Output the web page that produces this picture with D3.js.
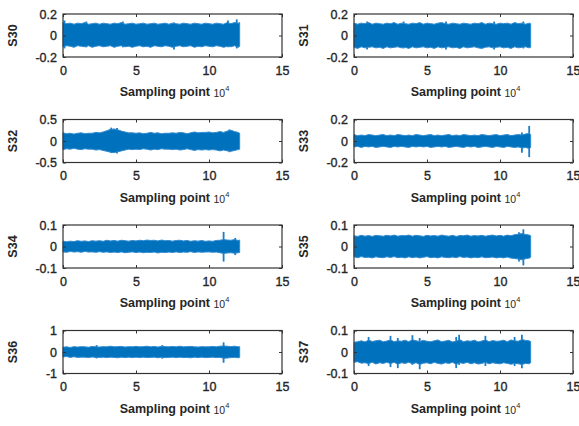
<!DOCTYPE html>
<html>
<head>
<meta charset="utf-8">
<script src="https://d3js.org/d3.v7.min.js"></script>
<style>
  body { margin: 0; background: #fff; }
  text { font-family: "Liberation Sans", Arial, sans-serif; fill: #262626; }
</style>
</head>
<body>
<div id="graph"></div>
<script>

// channel names, one panel each
var channels = ["S30", "S31", "S32", "S33", "S34", "S35", "S36", "S37"];

// y limits and tick labels for each panel
var yDomains = [[-0.2, 0.2], [-0.2, 0.2], [-0.5, 0.5], [-0.2, 0.2],
                [-0.1, 0.1], [-0.1, 0.1], [-1, 1], [-0.1, 0.1]];
var yTickValues = [[-0.2, 0, 0.2], [-0.2, 0, 0.2], [-0.5, 0, 0.5], [-0.2, 0, 0.2],
                   [-0.1, 0, 0.1], [-0.1, 0, 0.1], [-1, 0, 1], [-0.1, 0, 0.1]];
var yTickLabels = [["-0.2", "0", "0.2"], ["-0.2", "0", "0.2"], ["-0.5", "0", "0.5"], ["-0.2", "0", "0.2"],
                   ["-0.1", "0", "0.1"], ["-0.1", "0", "0.1"], ["-1", "0", "1"], ["-0.1", "0", "0.1"]];

// x axis (sampling point, x 10^4)
var xTickValues = [0, 5, 10, 15];
var xTickLabels = ["0", "5", "10", "15"];

var samplePos = [0, 0.25, 0.5, 0.75, 1, 1.25, 1.5, 1.75, 2, 2.25,
                 2.5, 2.75, 3, 3.25, 3.5, 3.75, 4, 4.25, 4.5, 4.75,
                 5, 5.25, 5.5, 5.75, 6, 6.25, 6.5, 6.75, 7, 7.25,
                 7.5, 7.75, 8, 8.25, 8.5, 8.75, 9, 9.25, 9.5, 9.75,
                 10, 10.25, 10.5, 10.75, 11, 11.25, 11.5, 11.75, 12, 12.1];

// upper envelope of each signal
var s30Hi = [0.12,0.11,0.115,0.105,0.115,0.11,0.12,0.105,0.11,0.115, 0.105,0.115,0.11,0.105,0.115,0.11,0.12,0.105,0.11,0.115,
             0.105,0.11,0.115,0.105,0.11,0.115,0.105,0.11,0.115,0.105, 0.115,0.11,0.105,0.115,0.11,0.105,0.115,0.11,0.105,0.115,
             0.11,0.105,0.115,0.11,0.105,0.12,0.11,0.12,0.115,0.12];
var s31Hi = [0.115,0.105,0.115,0.11,0.12,0.105,0.115,0.11,0.105,0.115, 0.11,0.12,0.105,0.115,0.11,0.105,0.115,0.11,0.12,0.105,
             0.115,0.11,0.105,0.115,0.12,0.11,0.105,0.115,0.11,0.105, 0.115,0.11,0.105,0.115,0.11,0.12,0.105,0.115,0.11,0.105,
             0.115,0.11,0.115,0.105,0.12,0.11,0.115,0.105,0.115,0.11];
var s32Hi = [0.19,0.17,0.18,0.16,0.18,0.19,0.17,0.18,0.18,0.2, 0.19,0.21,0.24,0.27,0.28,0.26,0.23,0.21,0.19,0.19,
             0.18,0.19,0.17,0.18,0.2,0.18,0.19,0.17,0.18,0.18, 0.19,0.18,0.2,0.19,0.17,0.19,0.21,0.19,0.2,0.2,
             0.21,0.19,0.2,0.22,0.2,0.23,0.25,0.22,0.2,0.18];
var s33Hi = [0.06,0.05,0.055,0.05,0.06,0.055,0.05,0.055,0.06,0.05, 0.055,0.05,0.06,0.055,0.05,0.055,0.05,0.06,0.055,0.05,
             0.055,0.06,0.05,0.055,0.05,0.055,0.06,0.05,0.055,0.05, 0.06,0.055,0.05,0.055,0.05,0.06,0.055,0.05,0.055,0.06,
             0.05,0.055,0.06,0.05,0.055,0.06,0.055,0.065,0.07,0.06];
var s34Hi = [0.025,0.022,0.025,0.023,0.027,0.024,0.026,0.023,0.027,0.025, 0.027,0.024,0.029,0.026,0.028,0.025,0.029,0.027,0.025,0.028,
             0.026,0.029,0.027,0.03,0.028,0.029,0.026,0.03,0.027,0.028, 0.025,0.028,0.029,0.026,0.028,0.024,0.027,0.025,0.028,0.024,
             0.026,0.024,0.028,0.029,0.032,0.03,0.029,0.032,0.028,0.03];
var s35Hi = [0.05,0.047,0.052,0.048,0.051,0.047,0.052,0.05,0.048,0.052, 0.049,0.053,0.048,0.051,0.05,0.053,0.048,0.052,0.05,0.047,
             0.052,0.049,0.051,0.048,0.053,0.05,0.048,0.052,0.047,0.051, 0.05,0.053,0.048,0.051,0.049,0.052,0.048,0.051,0.053,0.049,
             0.052,0.048,0.053,0.05,0.055,0.057,0.06,0.056,0.053,0.05];
var s36Hi = [0.22,0.24,0.21,0.25,0.23,0.25,0.24,0.22,0.26,0.24, 0.23,0.25,0.24,0.27,0.24,0.25,0.26,0.23,0.25,0.24,
             0.26,0.24,0.25,0.27,0.24,0.26,0.23,0.26,0.25,0.24, 0.26,0.24,0.27,0.24,0.25,0.26,0.24,0.23,0.25,0.24,
             0.24,0.26,0.24,0.27,0.28,0.27,0.25,0.27,0.24,0.25];
var s37Hi = [0.045,0.048,0.052,0.047,0.055,0.049,0.052,0.055,0.048,0.051, 0.056,0.048,0.052,0.05,0.055,0.048,0.057,0.052,0.049,0.054,
             0.05,0.048,0.052,0.056,0.048,0.051,0.054,0.047,0.05,0.057, 0.048,0.052,0.05,0.055,0.047,0.051,0.056,0.048,0.053,0.05,
             0.051,0.055,0.048,0.056,0.052,0.05,0.058,0.054,0.052,0.048];

// lower envelope of each signal
var s30Lo = [-0.105,-0.095,-0.1,-0.11,-0.095,-0.1,-0.105,-0.095,-0.11,-0.1, -0.095,-0.105,-0.1,-0.095,-0.11,-0.1,-0.095,-0.105,-0.1,-0.11,
             -0.1,-0.095,-0.105,-0.1,-0.11,-0.095,-0.1,-0.105,-0.095,-0.1, -0.11,-0.1,-0.095,-0.105,-0.1,-0.095,-0.11,-0.1,-0.105,-0.095,
             -0.1,-0.105,-0.095,-0.1,-0.11,-0.1,-0.105,-0.095,-0.11,-0.1];
var s31Lo = [-0.11,-0.12,-0.105,-0.115,-0.11,-0.105,-0.115,-0.11,-0.12,-0.105, -0.115,-0.11,-0.105,-0.115,-0.11,-0.12,-0.105,-0.115,-0.11,-0.105,
             -0.115,-0.11,-0.12,-0.105,-0.115,-0.11,-0.105,-0.115,-0.11,-0.12, -0.105,-0.115,-0.11,-0.105,-0.115,-0.12,-0.11,-0.105,-0.115,-0.11,
             -0.105,-0.115,-0.11,-0.12,-0.105,-0.115,-0.11,-0.105,-0.115,-0.11];
var s32Lo = [-0.2,-0.18,-0.19,-0.17,-0.19,-0.2,-0.18,-0.19,-0.19,-0.21, -0.2,-0.22,-0.24,-0.26,-0.27,-0.25,-0.23,-0.21,-0.19,-0.2,
             -0.19,-0.2,-0.18,-0.19,-0.21,-0.19,-0.2,-0.18,-0.19,-0.19, -0.2,-0.19,-0.21,-0.2,-0.18,-0.2,-0.22,-0.2,-0.21,-0.2,
             -0.21,-0.2,-0.21,-0.23,-0.21,-0.23,-0.24,-0.22,-0.2,-0.19];
var s33Lo = [-0.055,-0.05,-0.06,-0.05,-0.055,-0.05,-0.06,-0.055,-0.05,-0.055, -0.06,-0.05,-0.055,-0.05,-0.055,-0.06,-0.05,-0.055,-0.05,-0.055,
             -0.05,-0.06,-0.055,-0.05,-0.055,-0.05,-0.06,-0.055,-0.05,-0.055, -0.06,-0.05,-0.055,-0.05,-0.06,-0.055,-0.05,-0.055,-0.06,-0.05,
             -0.055,-0.06,-0.05,-0.055,-0.06,-0.055,-0.065,-0.06,-0.07,-0.06];
var s34Lo = [-0.025,-0.027,-0.023,-0.026,-0.024,-0.027,-0.023,-0.026,-0.025,-0.027, -0.024,-0.027,-0.025,-0.028,-0.026,-0.028,-0.025,-0.029,-0.027,-0.025,
             -0.028,-0.026,-0.029,-0.027,-0.028,-0.026,-0.03,-0.027,-0.028,-0.026, -0.028,-0.025,-0.028,-0.026,-0.027,-0.024,-0.028,-0.025,-0.027,-0.026,
             -0.025,-0.027,-0.026,-0.029,-0.032,-0.03,-0.029,-0.031,-0.029,-0.028];
var s35Lo = [-0.048,-0.052,-0.047,-0.051,-0.05,-0.053,-0.048,-0.051,-0.052,-0.048, -0.051,-0.047,-0.052,-0.05,-0.053,-0.048,-0.052,-0.049,-0.053,-0.05,
             -0.047,-0.052,-0.05,-0.053,-0.048,-0.051,-0.052,-0.049,-0.052,-0.047, -0.051,-0.049,-0.053,-0.05,-0.052,-0.048,-0.052,-0.051,-0.049,-0.053,
             -0.05,-0.053,-0.049,-0.054,-0.056,-0.058,-0.062,-0.057,-0.054,-0.05];
var s36Lo = [-0.23,-0.21,-0.25,-0.22,-0.25,-0.24,-0.24,-0.26,-0.23,-0.25, -0.25,-0.24,-0.26,-0.24,-0.25,-0.27,-0.24,-0.26,-0.24,-0.26,
             -0.24,-0.26,-0.24,-0.26,-0.25,-0.24,-0.27,-0.24,-0.26,-0.25, -0.24,-0.26,-0.24,-0.26,-0.25,-0.27,-0.24,-0.26,-0.24,-0.26,
             -0.25,-0.24,-0.26,-0.25,-0.29,-0.28,-0.26,-0.25,-0.27,-0.25];
var s37Lo = [-0.048,-0.045,-0.052,-0.05,-0.054,-0.048,-0.056,-0.05,-0.053,-0.048, -0.054,-0.048,-0.057,-0.05,-0.053,-0.048,-0.055,-0.05,-0.058,-0.052,
             -0.05,-0.055,-0.048,-0.053,-0.056,-0.05,-0.053,-0.048,-0.057,-0.05, -0.053,-0.048,-0.055,-0.05,-0.056,-0.053,-0.048,-0.055,-0.05,-0.053,
             -0.055,-0.05,-0.053,-0.057,-0.053,-0.055,-0.058,-0.053,-0.055,-0.05];

// thin isolated spikes sticking out of the band: [position, top, bottom]
var s30Spikes = [[0.1, 0.14, -0.12], [1.6, 0.13, -0.11], [4.1, 0.13, -0.11], [7.6, 0.12, -0.13], [11.3, 0.14, -0.11], [11.9, 0.15, -0.12]];
var s31Spikes = [[0.9, 0.13, -0.13], [3.4, 0.13, -0.12], [6.3, 0.13, -0.13], [9.6, 0.13, -0.13], [11.6, 0.13, -0.12]];
var s32Spikes = [[3.3, 0.31, -0.28], [3.7, 0.3, -0.29], [11.4, 0.27, -0.26]];
var s33Spikes = [[11.5, 0.08, -0.11], [12.0, 0.14, -0.15]];
var s34Spikes = [[11.0, 0.068, -0.07], [11.8, 0.04, -0.04]];
var s35Spikes = [[11.3, 0.066, -0.07], [11.6, 0.08, -0.088]];
var s36Spikes = [[11.0, 0.45, -0.5], [2.3, 0.32, -0.3], [6.8, 0.32, -0.31]];
var s37Spikes = [[1.0, 0.07, -0.065], [2.5, 0.075, -0.07], [3.0, 0.065, -0.075], [4.0, 0.078, -0.06], [4.5, 0.065, -0.08],
                 [7.0, 0.07, -0.075], [7.2, 0.08, -0.06], [9.0, 0.075, -0.065], [11.0, 0.07, -0.065], [11.5, 0.08, -0.075]];

var upper = [s30Hi, s31Hi, s32Hi, s33Hi, s34Hi, s35Hi, s36Hi, s37Hi];
var lower = [s30Lo, s31Lo, s32Lo, s33Lo, s34Lo, s35Lo, s36Lo, s37Lo];
var spikes = [s30Spikes, s31Spikes, s32Spikes, s33Spikes, s34Spikes, s35Spikes, s36Spikes, s37Spikes];

// layout of the 4x2 grid of axes
var width = 579, height = 426;
var panelW = 219, panelH = 43;
var colX = [63, 354];
var rowY = [14, 119.5, 225, 330.5];

var svg = d3.select("#graph")
  .append("svg")
    .attr("width", width)
    .attr("height", height);

channels.forEach(function(name, i) {
  var col = i % 2, row = Math.floor(i / 2);
  var g = svg.append("g")
    .attr("transform", "translate(" + colX[col] + "," + rowY[row] + ")");

  var x = d3.scaleLinear().domain([0, 15]).range([0, panelW]);
  var y = d3.scaleLinear().domain(yDomains[i]).range([panelH, 0]);

  var pts = samplePos.map(function(p, k) {
    return { x: p, hi: upper[i][k], lo: lower[i][k] };
  });

  // spikes (drawn first so the band covers their inner part)
  g.selectAll(".spike")
    .data(spikes[i])
    .enter()
    .append("line")
      .attr("class", "spike")
      .attr("x1", function(d) { return x(d[0]); })
      .attr("x2", function(d) { return x(d[0]); })
      .attr("y1", function(d) { return y(d[1]); })
      .attr("y2", function(d) { return y(d[2]); })
      .attr("stroke", "#1a7cc6")
      .attr("stroke-width", 1.8);

  // signal band
  g.append("path")
    .datum(pts)
    .attr("d", d3.area()
      .x(function(d) { return x(d.x); })
      .y0(function(d) { return y(d.lo); })
      .y1(function(d) { return y(d.hi); }))
    .attr("fill", "#0072bd")
    .attr("stroke", "#2f8ad0")
    .attr("stroke-width", 1);

  // axes, ticks pointing inward like matlab
  var xb = g.append("g")
    .attr("transform", "translate(0," + panelH + ")")
    .call(d3.axisBottom(x).tickValues(xTickValues).tickSize(-3).tickPadding(9)
      .tickFormat(function(d, k) { return xTickLabels[k]; }));
  var xt = g.append("g")
    .call(d3.axisTop(x).tickValues(xTickValues).tickSize(-3).tickFormat(""));
  var yl = g.append("g")
    .call(d3.axisLeft(y).tickValues(yTickValues[i]).tickSize(-3).tickPadding(6)
      .tickFormat(function(d, k) { return yTickLabels[i][k]; }));
  var yr = g.append("g")
    .attr("transform", "translate(" + panelW + ",0)")
    .call(d3.axisRight(y).tickValues(yTickValues[i]).tickSize(-3).tickFormat(""));

  [xb, xt, yl, yr].forEach(function(a) {
    a.select(".domain").remove();
    a.selectAll("line").attr("stroke", "#333");
    a.selectAll("text").attr("font-size", "12.5px").attr("fill", "#262626")
      .attr("stroke", "#262626").attr("stroke-width", 0.35)
      .style("font-family", "'Liberation Sans', Arial, sans-serif");
  });

  // box
  g.append("rect")
    .attr("width", panelW)
    .attr("height", panelH)
    .attr("fill", "none")
    .attr("stroke", "#333")
    .attr("stroke-width", 1.2);

  // y label
  g.append("text")
    .attr("transform", "translate(-46," + (panelH / 2) + ") rotate(-90)")
    .attr("text-anchor", "middle")
    .attr("font-size", "12.5px")
    .attr("font-weight", "bold")
    .text(name);

  // x label with the 10^4 exponent
  var xl = g.append("text")
    .attr("x", panelW / 2 + 2)
    .attr("y", panelH + 39)
    .attr("text-anchor", "middle")
    .attr("font-size", "12.5px")
    .attr("font-weight", "bold");
  xl.append("tspan").text("Sampling point ");
  xl.append("tspan").attr("font-size", "10.5px").attr("font-weight", "normal").attr("dy", 1).text("10");
  xl.append("tspan").attr("font-size", "7.5px").attr("font-weight", "normal").attr("dy", -6).text("4");
});

</script>
</body>
</html>
